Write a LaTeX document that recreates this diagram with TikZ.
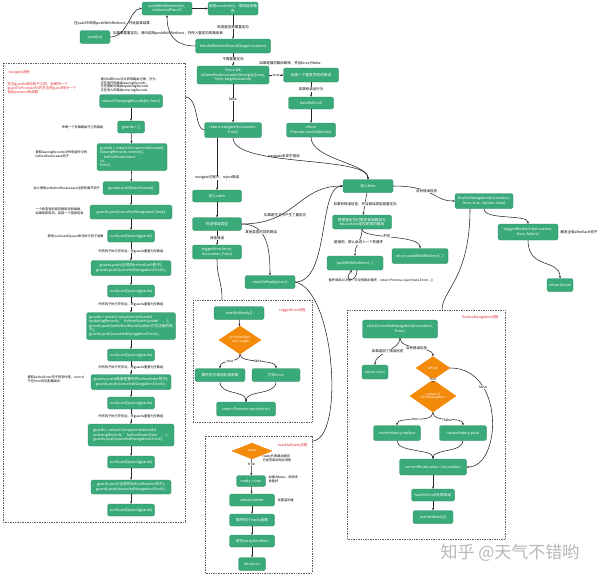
\documentclass[tikz,border=0pt]{standalone}
\usepackage{fontspec}
\setmainfont{Noto Sans CJK SC}
\usepackage{tikz}
\usetikzlibrary{arrows.meta,positioning,shapes.geometric}
\definecolor{gbox}{HTML}{3AAA7B}
\definecolor{obox}{HTML}{F48A0A}
\definecolor{rtxt}{HTML}{E0282E}
\definecolor{dline}{HTML}{606060}
\definecolor{wmark}{HTML}{B8B8B8}
\tikzset{sz/.style 2 args={minimum width=#1, minimum height=#2}}

\begin{document}
\begin{tikzpicture}[
    x=1pt, y=-1pt,
    box/.style={fill=gbox, draw=gbox!80!black, line width=0.3pt, rounded corners=1.5pt,
                text=white, align=center, font=\fontsize{3.7}{4.4}\selectfont, inner sep=0.8pt},
    lbox/.style={box, align=left},
    cond/.style={diamond, fill=obox, draw=obox, text=white, align=center,
                 font=\fontsize{3.2}{3.8}\selectfont, inner sep=0pt},
    ar/.style={-{Stealth[length=2.4pt,width=2pt]}, line width=0.55pt, draw=black!85},
    ln/.style={line width=0.55pt, draw=black!85},
    lab/.style={font=\fontsize{3.5}{4.2}\selectfont, align=center, inner sep=0.4pt},
    labw/.style={lab, fill=white},
    slab/.style={lab, font=\fontsize{3.2}{3.8}\selectfont},
    redlab/.style={lab, text=rtxt, align=left},
    frame/.style={draw=dline, line width=0.5pt, dash pattern=on 0.8pt off 0.9pt}
]
\fill[white] (0,0) rectangle (600,576);
\useasboundingbox (0,0) rectangle (600,576);

% dashed frames of the sub flows
\draw[frame] (3,63) rectangle (185,522);
\draw[frame] (193,300) rectangle (312,422);
\draw[frame] (205,436) rectangle (312,573);
\draw[frame] (347,310) rectangle (505,539);
\coordinate (navin) at (185,97);
\coordinate (trgin) at (222,300);
\coordinate (marin) at (312,441);
\coordinate (finin) at (442,310);

% main flow
\node[box, sz={30}{13}] (push) at (95,37) {push(to)};
\node[box, sz={50}{13}] (pwr) at (167,8.5) {pushWithRedirect(to,\\redirectedFrom?)};
\node[box, sz={50}{13}] (resolve) at (233,8.5) {调用resolve(to)，得到目标路\\由};
\node[box, sz={75}{14}] (hrr) at (233,46) {handleRedirectRecord(targetLocation)};
\node[box, sz={72}{18}] (force) at (233,75) {!force \&\&\\isSameRouteLocation(stringifyQuery,\\from, targetLocation)};
\node[box, sz={55}{14}] (dup) at (311,75) {创建一个重复导航的错误};
\node[box, sz={45}{12}] (scroll) at (311,103) {handleScroll};
\node[box, sz={49}{14}] (resfail) at (311,130) {return\\Promise.resolve(failure)};
\node[box, sz={57}{15}] (nav) at (233,130) {return navigate(toLocation,\\from)};
\node[box, sz={49}{12}] (catch) at (217,196) {进入catch};
\node[box, sz={50}{13}] (then) at (368,186) {进入then};
\node[box, sz={49}{13}] (chk) at (217,224) {检查错误类型};
\node[box, sz={49}{14}] (trig) at (217,252) {triggerError(error,\\toLocation, from)};
\node[box, sz={50}{13}] (marerr) at (270,282) {markAsReady(error)};
\node[box, sz={59}{14}] (redir) at (362,222) {根据重定向对象的目标路由与\\toLocation是否是相同路由};
\node[box, sz={56}{14}] (pwr2) at (355,263) {pushWithRedirect(...)};
\node[box, sz={56}{15}] (rpwr) at (420,256) {return pushWithRedirect(...)};
\node[box, sz={58}{15}] (fin) at (484,201) {finalizeNavigation(toLocation,\\from, true, replace, data)};
\node[box, sz={60}{16}] (after) at (528,232) {triggerAfterEach(toLocation,\\from, failure)};
\node[box, sz={26}{13}] (retfail) at (560,285) {return failure};

\node[lab] (lpush) at (112,23) {在push中调用pushWithRedirect，并返回其结果};
\node[lab] (lredir) at (168,33) {如果需要重定向，递归调用pushWithRedirect，并传入重定向的路由表};
\node[lab] (lsame) at (290,63) {如果是相同路由跳转，并且force为false};
\node[lab, fill=white] (lok) at (284,156) {navigate未发生错误};
\node[lab] (lgrd) at (285,215) {如果是守卫中产生了重定向};
\node[lab] (lafter) at (579,232) {触发全局afterEach钩子};
\node[slab] (lloop) at (381,281) {循环调用10次后，仍没有跳出循环，return Promise.reject(new Error(...))};

\draw[ar] (push.east) .. controls +(18,0) and +(-12,0) .. (pwr.west);
\draw[ar] (pwr) -- (resolve);
\draw[ar] (resolve) -- node[labw]{检查是否需要重定向} (hrr);
\draw[ar] (hrr.west) .. controls +(-22,0) and +(0,18) .. (pwr.south);
\draw[ar] (hrr) -- node[labw]{不需要重定向} (force);
\draw[ar] (force) -- node[labw]{true} (dup);
\draw[ar] (dup) -- node[labw]{如果有滚动行为} (scroll);
\draw[ar] (scroll) -- (resfail);
\draw[ar] (force) -- node[labw, pos=0.4]{false} (nav);
\draw[ln] (navin) .. controls +(14,0) and +(-10,0) .. (nav.west);
\draw[ar] (nav.south) .. controls +(0,30) and +(0,-24) .. (then.north);
\draw[ar] (resfail.south) .. controls +(0,22) and +(0,-16) .. (then.north);
\draw[ar] (catch |- nav.south) -- node[labw, pos=0.77]{navigate过程中，reject错误} (catch.north);
\draw[ar] (catch) -- (chk);
\draw[ar] (chk) -- node[labw]{其他错误} (trig);
\draw[ar] (chk.east) .. controls +(55,0) and +(-45,0) .. (then.west);
\draw[ar] (chk.east) .. controls +(26,0) and +(0,-26) .. node[labw, pos=0.35]{其他类型的导航错误} (marerr.north);
\draw[ar] (marerr.east) .. controls +(35,0) and +(-25,0) .. (then.west);
\draw[ln] (marerr.east) .. controls +(40,8) and +(33,0) .. (marin);
\draw[ln] (trig.south) .. controls +(0,20) and +(0,-20) .. (trgin);
\draw[ar] (then) -- node[labw]{如果有错误信息，并且错误类型是重定向} (redir);
\draw[ar] (then.east) .. controls +(42,0) and +(-22,0) .. node[labw, pos=0.4]{没有错误信息} (fin.west);
\draw[ar] (fin.south) .. controls +(0,12) and +(0,-10) .. (after.north);
\draw[ar] (after.south) .. controls +(0,30) and +(0,-20) .. (retfail.north);
\draw[ln] ([xshift=-14pt]fin.south) .. controls +(0,70) and +(0,-20) .. (finin);
\draw[ar] (redir.south) .. controls +(0,12) and +(0,-12) .. node[labw]{是相同，那么会进入一个死循环} (pwr2.north);
\draw[ar] (redir.south) .. controls +(0,10) and +(0,-14) .. node[labw, pos=0.45]{不同} (rpwr.north);
\draw[ar] ([xshift=2pt]pwr2.south) .. controls +(0,13) and +(-10,12) .. ([xshift=-3pt]pwr2.south);

% navigate flow
\node[redlab, anchor=west] (tnav) at (8,72) {navigate流程};
\node[redlab, anchor=north west] (tnavtip) at (7,82)
  {在向guards添加钩子之前，会使用一个\\guardToPromiseFn的方法将guard转为一个\\返回promise的函数};
\node[slab, align=left, anchor=north west] (tnote) at (100,77)
  {通过to和from对比获取路由记录，分为：\\正在离开的路由leavingRecords\\正在更新的路由updatingRecords\\正在进入的路由enteringRecords};
\node[box, sz={63}{13}] (rec) at (131,101) {extractChangingRecords(to, from)};
\node[box, sz={27}{12}] (g0) at (131,127) {guards = []};
\node[lbox, sz={70}{27}] (g1) at (132,157) {guards = extractComponentsGuards(\\leavingRecords.reverse(),\\'beforeRouteLeave',\\to,\\from)};
\node[box, sz={56}{13}] (g2) at (131,188) {guards.push(leaveGuards)};
\node[box, sz={82}{14}] (g3) at (131,212) {guards.push(canceledNavigationCheck)};
\node[box, sz={47}{12}] (q1) at (131,236) {runGuardQueue(guards)};
\node[box, sz={80}{15}] (g4) at (131,268) {guards.push(全局的beforeEach钩子);\\guards.push(canceledNavigationCheck);};
\node[box, sz={47}{12}] (q2) at (131,291) {runGuardQueue(guards)};
\node[lbox, sz={89}{27}] (g5) at (131,326) {guards = extractComponentsGuards(\\updatingRecords, 'beforeRouteUpdate', ...);\\guards.push(onBeforeRouteUpdate方式注册的钩\\子);\\guards.push(canceledNavigationCheck);};
\node[box, sz={47}{12}] (q3) at (131,355) {runGuardQueue(guards)};
\node[box, sz={80}{15}] (g6) at (131,382) {guards.push(路由配置中的beforeEnter钩子);\\guards.push(canceledNavigationCheck);};
\node[box, sz={47}{12}] (q4) at (131,403) {runGuardQueue(guards)};
\node[lbox, sz={86}{22}] (g7) at (131,435) {guards = extractComponentsGuards(\\enteringRecords, 'beforeRouteEnter', ...);\\guards.push(canceledNavigationCheck);};
\node[box, sz={47}{12}] (q5) at (131,462) {runGuardQueue(guards)};
\node[box, sz={80}{14}] (g8) at (131,487) {guards.push(全局的beforeResolve钩子);\\guards.push(canceledNavigationCheck);};
\node[box, sz={47}{12}] (q6) at (131,510) {runGuardQueue(guards)};

\node[slab, anchor=east] (l0) at (104,127) {声明一个存储路由守卫的数组};
\node[slab, align=left, anchor=west] (l1) at (35,154.5) {提取leavingRecords中所有组件中的\\beforeRouteLeave钩子};
\node[slab, anchor=west] (l2) at (33,188) {加入使用onBeforeRouteLeave注册的离开钩子};
\node[slab, align=left, anchor=west] (l3) at (35,211.5) {一个检查导航是否被取消的函数，\\如果导航取消，返回一个错误信息};
\node[slab, anchor=west] (l4) at (47,236) {使用runGuardQueue依次执行钩子函数};
\node[slab, align=left, anchor=west] (l5) at (27,379.5) {提取beforeEnter钩子的条件是，record\\不在from的匹配路由中};

\draw[ar] (rec) -- (g0);
\draw[ar] (g0) -- (g1);
\draw[ar] (g1) -- (g2);
\draw[ar] (g2) -- (g3);
\draw[ar] (g3) -- (q1);
\draw[ar] (q1) -- node[slab, fill=white]{所有钩子执行完毕后，将guards重置为空数组} (g4);
\draw[ar] (g4) -- (q2);
\draw[ar] (q2) -- node[slab, fill=white]{所有钩子执行完毕后，将guards重置为空数组} (g5);
\draw[ar] (g5) -- (q3);
\draw[ar] (q3) -- node[slab, fill=white]{所有钩子执行完毕后，将guards重置为空数组} (g6);
\draw[ar] (g6) -- (q4);
\draw[ar] (q4) -- node[slab, fill=white]{所有钩子执行完毕后，将guards重置为空数组} (g7);
\draw[ar] (g7) -- (q5);
\draw[ar] (q5) -- (g8);
\draw[ar] (g8) -- (q6);

% triggerError flow
\node[redlab, anchor=east] (ttrg) at (306,310) {triggerError流程};
\node[box, sz={50}{13}] (mar2) at (239,313) {markAsReady()};
\node[cond, sz={42}{18}] (eh) at (240,340) {errorHandlers\\.list().length};
\node[box, sz={50}{13}] (loop) at (220,375) {循环执行错误处理函数};
\node[box, sz={48}{13}] (perr) at (276,375) {打印error};
\node[box, sz={59}{14}] (rej) at (246,409) {return Promise.reject(error)};
\draw[ar] (mar2) -- (eh);
\draw[ar] (eh.south) .. controls +(0,10) and +(0,-10) .. node[labw]{true} (loop.north);
\draw[ar] (eh.south) .. controls +(0,10) and +(0,-10) .. node[labw]{false} (perr.north);
\draw[ar] (loop.south) .. controls +(0,14) and +(0,-12) .. (rej.north);
\draw[ar] (perr.south) .. controls +(0,14) and +(0,-12) .. (rej.north);

% markAsReady flow
\node[redlab, anchor=east] (tmar) at (308,445) {markAsReady流程};
\node[cond, sz={40}{16}] (rdy) at (252,451) {ready};
\node[box, sz={29}{11}] (rdyt) at (251,481) {ready = true};
\node[box, sz={45}{12}] (setup) at (252,500) {setupListener};
\node[box, sz={45}{12}] (rloop) at (252,520) {循环执行ready函数};
\node[box, sz={45}{12}] (clr) at (252,541) {清空readyHandlers};
\node[box, sz={27}{13}] (rerr) at (252,564) {return err};
\node[slab, align=left, anchor=west] (lr0) at (262,458) {ready代表路由是否\\已经完成初始化导航};
\node[slab, align=left, anchor=west] (lr1) at (268,479.5) {如果为false，说明未\\准备好};
\node[slab, anchor=west] (lr2) at (277,500) {设置监听器};
\draw[ar] (rdy) -- node[labw, pos=0.35]{true} (rdyt);
\draw[ar] (rdyt) -- (setup);
\draw[ar] (setup) -- (rloop);
\draw[ar] (rloop) -- (clr);
\draw[ar] (clr) -- (rerr);

% finalizeNavigation flow
\node[redlab, anchor=east] (tfin) at (499,317) {finalizeNavigation流程};
\node[box, sz={75}{18}] (ccn) at (400,329) {checkCanceledNavigation(toLocation,\\from)};
\node[box, sz={26}{14}] (rerr2) at (375,372) {return error};
\node[cond, sz={34}{23}] (isp) at (433,368) {isPush};
\node[cond, sz={46}{22}] (rep) at (433,396) {replace ||\\isFirstNavigation};
\node[box, sz={47}{15}] (hrep) at (397,433) {routerHistory.replace};
\node[box, sz={47}{15}] (hpush) at (463,433) {routerHistory.push};
\node[box, sz={67}{16}] (cur) at (433,467) {currentRoute.value = toLocation};
\node[box, sz={43}{12}] (hs) at (433,495) {handleScroll处理滚动};
\node[box, sz={40}{13}] (mar3) at (433,517) {markAsReady()};
\draw[ar] (ccn.south) .. controls +(0,12) and +(0,-12) .. node[labw]{如果返回了错误信息} (rerr2.north);
\draw[ar] (ccn.south) .. controls +(0,12) and +(0,-10) .. node[labw]{没有错误信息} (isp.north);
\draw[ar] (isp) -- node[labw]{true} (rep);
\draw[ar] (rep.south) .. controls +(0,12) and +(0,-10) .. node[labw]{true} (hrep.north);
\draw[ar] (rep.south) .. controls +(0,12) and +(0,-10) .. node[labw]{false} (hpush.north);
\draw[ar] (hrep.south) .. controls +(0,12) and +(0,-10) .. (cur.north);
\draw[ar] (hpush.south) .. controls +(0,12) and +(0,-10) .. (cur.north);
\draw[ar] (isp.east) .. controls +(55,0) and +(35,0) .. node[labw, pos=0.28]{false} (cur.east);
\draw[ar] (cur) -- (hs);
\draw[ar] (hs) -- (mar3);

\node[font=\fontsize{17}{17}\selectfont, text=wmark] (wm) at (510,553) {知乎 @天气不错哟};
\end{tikzpicture}
\end{document}
